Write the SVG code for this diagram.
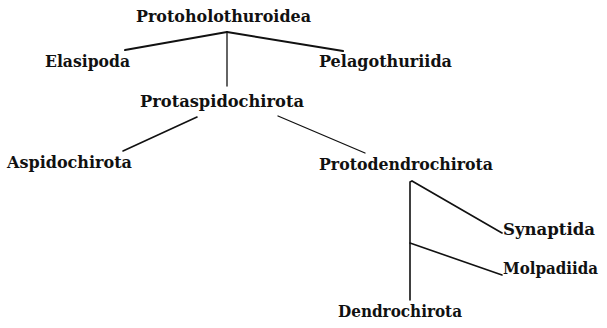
<svg xmlns="http://www.w3.org/2000/svg" width="607" height="328" viewBox="0 0 607 328">
<style>
text{font-family:"DejaVu Serif","Liberation Serif",serif;font-weight:bold;font-size:16px;fill:#111}
.e{fill:none;stroke:#111;stroke-linecap:round}
</style>
<rect width="607" height="328" fill="#fff"/>
<g id="connectors">
<path class="e" d="M227 32L125 50" stroke-width="2"/>
<path class="e" d="M227 32L343 51" stroke-width="2"/>
<path class="e" d="M227 32L227 86" stroke-width="1.3"/>
<path class="e" d="M197 117L123 151" stroke-width="1.6"/>
<path class="e" d="M278 116L365 153" stroke-width="1.3"/>
<path class="e" d="M410 300L410 182L412 181L502 233" stroke-width="1.6"/>
<path class="e" d="M410 243L502 275" stroke-width="1.6"/>
</g>
<g id="protoholothuroidea"><text x="136" y="22" textLength="175" lengthAdjust="spacingAndGlyphs">Protoholothuroidea</text></g>
<g id="elasipoda"><text x="45" y="67" textLength="85" lengthAdjust="spacingAndGlyphs">Elasipoda</text></g>
<g id="pelagothuriida"><text x="319" y="67" textLength="133" lengthAdjust="spacingAndGlyphs">Pelagothuriida</text></g>
<g id="protaspidochirota"><text x="140" y="107" textLength="164" lengthAdjust="spacingAndGlyphs">Protaspidochirota</text></g>
<g id="aspidochirota"><text x="7" y="168" textLength="125" lengthAdjust="spacingAndGlyphs">Aspidochirota</text></g>
<g id="protodendrochirota"><text x="319" y="170" textLength="174" lengthAdjust="spacingAndGlyphs">Protodendrochirota</text></g>
<g id="synaptida"><text x="503" y="235" textLength="92" lengthAdjust="spacingAndGlyphs">Synaptida</text></g>
<g id="molpadiida"><text x="503" y="274" textLength="95" lengthAdjust="spacingAndGlyphs">Molpadiida</text></g>
<g id="dendrochirota"><text x="338" y="317" textLength="124" lengthAdjust="spacingAndGlyphs">Dendrochirota</text></g>
</svg>
